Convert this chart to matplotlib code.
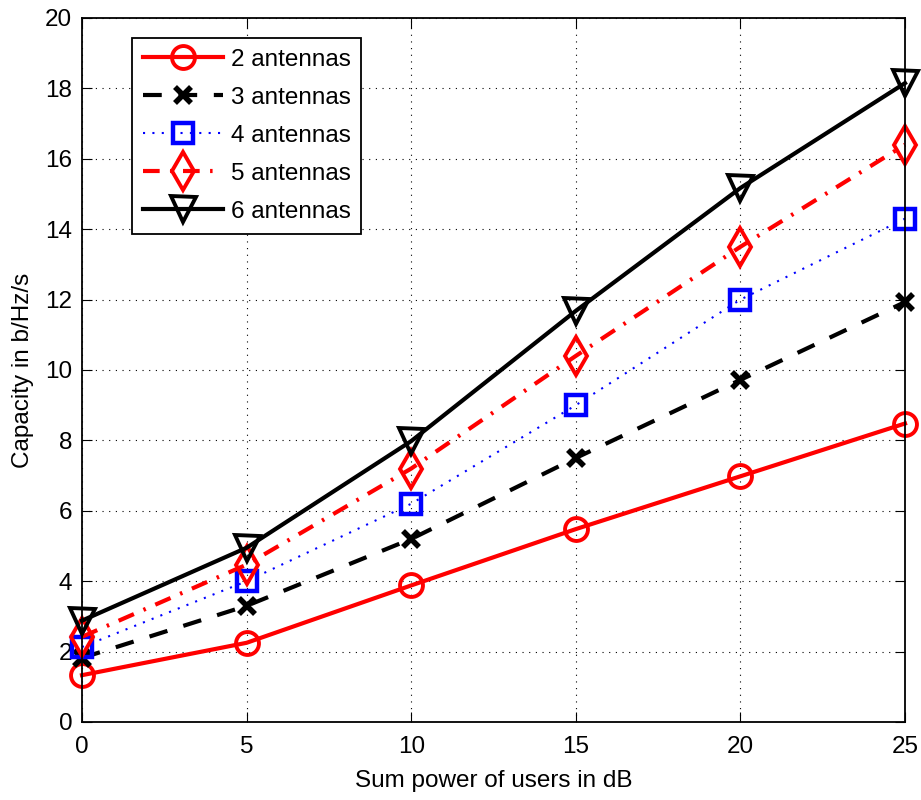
import matplotlib.pyplot as plt
import numpy as np

plt.rcParams['font.family'] = ['Liberation Sans', 'DejaVu Sans']

# data
power_db = [0, 5, 10, 15, 20, 25]
ant2 = [1.33, 2.25, 3.88, 5.48, 6.98, 8.48]
ant3 = [1.82, 3.3, 5.2, 7.5, 9.72, 11.93]
ant4 = [2.13, 4.0, 6.2, 9.0, 12.0, 14.3]
ant5 = [2.42, 4.47, 7.2, 10.4, 13.5, 16.4]
ant6 = [2.88, 4.95, 7.98, 11.68, 15.17, 18.15]
labels = ['2 antennas', '3 antennas', '4 antennas', '5 antennas', '6 antennas']

fig = plt.figure(figsize=(9.21, 8), dpi=100)
ax = fig.add_axes([82 / 921, 78 / 800, 823 / 921, 704 / 800])

lw = 3.0
mew = 2.8
ax.plot(power_db, ant2, '-', color='red', marker='o', mfc='none', mec='red',
        lw=lw, ms=16.5, mew=mew, label=labels[0], clip_on=False)
ax.plot(power_db, ant3, color='black', marker='x', mec='black', ls='--',
        lw=lw, ms=11, mew=4, label=labels[1], dashes=(4.5, 4), clip_on=False)
ax.plot(power_db, ant4, color='blue', marker='s', mfc='none', mec='blue', ls=':',
        lw=1.5, ms=14, mew=3.2, label=labels[2], dashes=(1, 3.5), clip_on=False)
ax.plot(power_db, ant5, color='red', marker='d', mfc='none', mec='red', ls='-.',
        lw=lw, ms=19, mew=mew, label=labels[3], dashes=(4, 2.5, 0.6, 2.5),
        clip_on=False)
ax.plot(power_db, ant6, '-', color='black', marker='v', mfc='none', mec='black',
        lw=lw, ms=18, mew=mew, label=labels[4], clip_on=False)

ax.set_xlim(0, 25)
ax.set_ylim(0, 20)
ax.set_xticks(np.arange(0, 26, 5))
ax.set_yticks(np.arange(0, 21, 2))
ax.grid(True, linestyle=(0, (1, 5)), color='black', linewidth=0.8)
ax.set_axisbelow(True)
ax.tick_params(direction='in', length=7, labelsize=17.5, top=True, right=True)
ax.tick_params(axis='x', pad=10)
ax.tick_params(axis='y', pad=7)
for s in ax.spines.values():
    s.set_linewidth(1.3)

ax.set_xlabel('Sum power of users in dB', fontsize=17.5, labelpad=9)
ax.set_ylabel('Capacity in b/Hz/s', fontsize=17.5, labelpad=8)

leg = ax.legend(loc='upper left', bbox_to_anchor=(0.061, 0.972), fontsize=17.5,
                fancybox=False, edgecolor='black', framealpha=1,
                handlelength=3.3, borderpad=0.45, labelspacing=0.66,
                handletextpad=0.3, borderaxespad=0)
leg.get_frame().set_linewidth(1.3)

plt.savefig('out.png', dpi=100)
